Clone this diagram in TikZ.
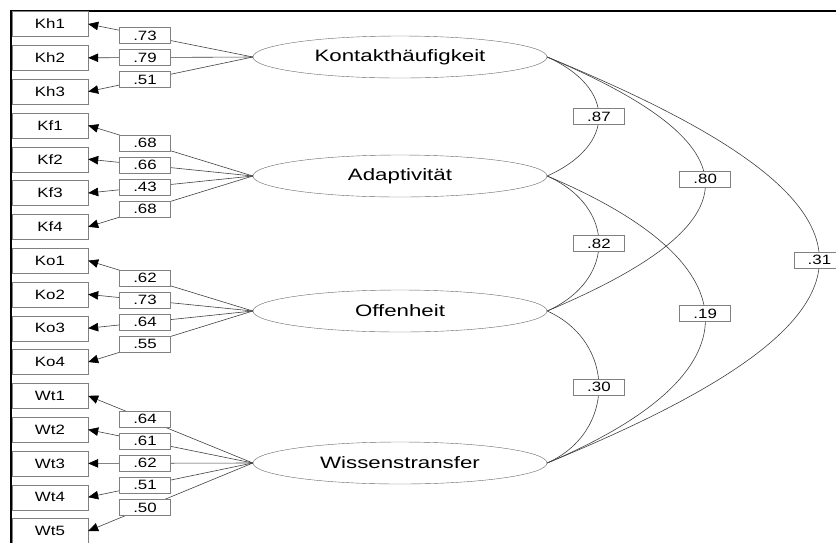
\documentclass[tikz,border=0pt]{standalone}
\usepackage{fontspec}
\setmainfont[FakeStretch=1.35]{Liberation Sans}
\newfontfamily\smallfont[FakeStretch=1.25]{Liberation Sans}
\usetikzlibrary{arrows.meta,shapes.geometric}

\begin{document}
\begin{tikzpicture}[x=1pt,y=-1pt,
        item/.style={draw=gray, minimum width=76pt, minimum height=25pt, inner sep=0pt, font=\smallfont\fontsize{13.5}{15}\selectfont},
        factor/.style={draw=black!60, ellipse, minimum width=294pt, minimum height=42pt, inner sep=0pt, font=\fontsize{16.5}{19}\selectfont},
        weight/.style={draw=gray, fill=white, minimum width=51pt, minimum height=16pt, inner sep=0pt, font=\smallfont\fontsize{13.5}{15}\selectfont},
        load/.style={draw=black!75, line width=0.6pt, -{Triangle[length=10pt,width=8.5pt,color=black]}},
        corr/.style={draw=black!75, line width=0.6pt}]

        \useasboundingbox (0,0) rectangle (836,542);

        % Frame
        \draw[line width=2pt] (11,545) -- (11,11) -- (836,11);

        % Factors
        \node[factor] (kh) at (400, 57) {Kontakthäufigkeit};
        \node[factor] (ad) at (400, 176) {Adaptivität};
        \node[factor] (of) at (400, 311) {Offenheit};
        \node[factor] (wt) at (400, 463) {Wissenstransfer};

        % First factor: Kontakthäufigkeit
        \node[item] (kh1) at (50, 24) {Kh1};
        \node[item] (kh2) at (50, 57.8) {Kh2};
        \node[item] (kh3) at (50, 91.6) {Kh3};
        \draw[load] (kh.west) -- node[weight, pos=0.655] {.73} (kh1.east);
        \draw[load] (kh.west) -- node[weight, pos=0.655] {.79} (kh2.east);
        \draw[load] (kh.west) -- node[weight, pos=0.655] {.51} (kh3.east);

        % Second factor: Adaptivität
        \node[item] (kf1) at (50, 125.4) {Kf1};
        \node[item] (kf2) at (50, 159.2) {Kf2};
        \node[item] (kf3) at (50, 193) {Kf3};
        \node[item] (kf4) at (50, 226.8) {Kf4};
        \draw[load] (ad.west) -- node[weight, pos=0.655] {.68} (kf1.east);
        \draw[load] (ad.west) -- node[weight, pos=0.655] {.66} (kf2.east);
        \draw[load] (ad.west) -- node[weight, pos=0.655] {.43} (kf3.east);
        \draw[load] (ad.west) -- node[weight, pos=0.655] {.68} (kf4.east);

        % Third factor: Offenheit
        \node[item] (ko1) at (50, 260.6) {Ko1};
        \node[item] (ko2) at (50, 294.4) {Ko2};
        \node[item] (ko3) at (50, 328.2) {Ko3};
        \node[item] (ko4) at (50, 362) {Ko4};
        \draw[load] (of.west) -- node[weight, pos=0.655] {.62} (ko1.east);
        \draw[load] (of.west) -- node[weight, pos=0.655] {.73} (ko2.east);
        \draw[load] (of.west) -- node[weight, pos=0.655] {.64} (ko3.east);
        \draw[load] (of.west) -- node[weight, pos=0.655] {.55} (ko4.east);

        % Fourth factor: Wissenstransfer
        \node[item] (wt1) at (50, 395.8) {Wt1};
        \node[item] (wt2) at (50, 429.6) {Wt2};
        \node[item] (wt3) at (50, 463.4) {Wt3};
        \node[item] (wt4) at (50, 497.2) {Wt4};
        \node[item] (wt5) at (50, 531) {Wt5};
        \draw[load] (wt.west) -- node[weight, pos=0.655] {.64} (wt1.east);
        \draw[load] (wt.west) -- node[weight, pos=0.655] {.61} (wt2.east);
        \draw[load] (wt.west) -- node[weight, pos=0.655] {.62} (wt3.east);
        \draw[load] (wt.west) -- node[weight, pos=0.655] {.51} (wt4.east);
        \draw[load] (wt.west) -- node[weight, pos=0.655] {.50} (wt5.east);

        % Correlations
        \draw[corr] (kh.east) .. controls +(69,31) and +(69,-31) .. node[weight] {.87} (ad.east);
        \draw[corr] (kh.east) .. controls +(211,89) and +(211,-89) .. node[weight, pos=0.48] {.80} (of.east);
        \draw[corr] (kh.east) .. controls +(363,149) and +(363,-149) .. node[weight] {.31} (wt.east);
        \draw[corr] (ad.east) .. controls +(69,31) and +(69,-31) .. node[weight] {.82} (of.east);
        \draw[corr] (ad.east) .. controls +(211,89) and +(211,-89) .. node[weight, pos=0.48] {.19} (wt.east);
        \draw[corr] (of.east) .. controls +(69,31) and +(69,-31) .. node[weight] {.30} (wt.east);

\end{tikzpicture}
\end{document}
